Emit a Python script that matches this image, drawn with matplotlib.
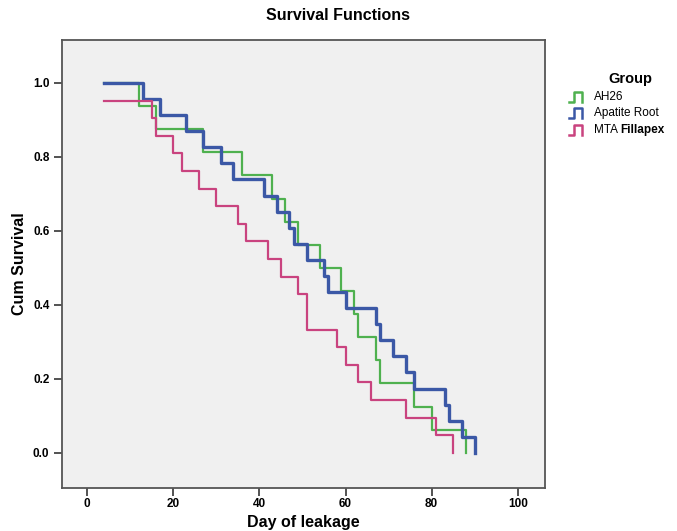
import numpy as np
import matplotlib
matplotlib.use("Agg")
import matplotlib.pyplot as plt
from matplotlib.lines import Line2D

plt.rcParams['font.family'] = ['Liberation Sans', 'DejaVu Sans']

# day of leakage for each sample
groups = ["AH26", "Apatite Root", "MTA Fillapex"]
ah26_days = [12, 16, 27, 36, 43, 46, 49, 54, 59, 62, 63, 67, 68, 76, 80, 88]
apatite_days = [13, 17, 23, 27, 31, 34, 41, 44, 47, 48, 51, 55, 56, 60,
                67, 68, 71, 74, 76, 83, 84, 87, 90]
mta_days = [4, 15, 16, 20, 22, 26, 30, 35, 37, 42, 45, 49, 51, 51, 58, 60,
            63, 66, 74, 81, 85]
colors = ["#4fb14f", "#3b58a6", "#c9437f"]
widths = [1.6, 2.4, 1.6]
x_ticks = [0, 20, 40, 60, 80, 100]
y_ticks = [0.0, 0.2, 0.4, 0.6, 0.8, 1.0]


def km_steps(days, start):
    """Kaplan-Meier step points, starting at the first observed day."""
    days = np.sort(np.asarray(days))
    n = len(days)
    times, counts = np.unique(days, return_counts=True)
    at_risk = n
    s = 1.0
    xs, ys = [start], []
    s_start = 1.0
    for t, c in zip(times, counts):
        s *= (at_risk - c) / at_risk
        at_risk -= c
        if t <= start:
            s_start = s
        else:
            xs.append(t)
            ys.append(s)
    return xs, [s_start] + ys


all_days = [ah26_days, apatite_days, mta_days]
start = min(min(d) for d in all_days)

fig = plt.figure(figsize=(6.77, 5.31), dpi=100)
ax = fig.add_axes([62 / 677, 1 - 488 / 531, (545 - 62) / 677, (488 - 40) / 531])
ax.set_facecolor("#f0f0f0")

for days, col, lw in zip(all_days, colors, widths):
    xs, ys = km_steps(days, start)
    ax.step(xs, ys, where="post", color=col, lw=lw)

ax.set_xlim(-5.8, 106.3)
ax.set_ylim(-0.095, 1.116)
ax.set_xticks(x_ticks)
ax.set_yticks(y_ticks)
ax.set_yticklabels([f"{v:.1f}" for v in y_ticks])
ax.tick_params(direction="out", length=6, width=1.3, color="#444444",
               labelsize=8.5)
ax.tick_params(axis="x", pad=1.5)
ax.tick_params(axis="y", pad=3)
for lab in ax.get_xticklabels() + ax.get_yticklabels():
    lab.set_fontweight("bold")
for sp in ax.spines.values():
    sp.set_color("#555555")
    sp.set_linewidth(1.3)

ax.set_xlabel("Day of leakage", fontsize=11.5, fontweight="bold", labelpad=3)
ax.set_ylabel("Cum Survival", fontsize=11.5, fontweight="bold", labelpad=4)
fig.text(0.5, 1 - 15 / 531, "Survival Functions", ha="center", va="center",
         fontsize=11.5, fontweight="bold")

# legend drawn by hand: step icons plus labels
fig.text(630 / 677, 1 - 79 / 531, "Group", ha="center", va="center",
         fontsize=10.5, fontweight="bold")
row_y = [97, 113, 130]
for name, col, ry in zip(groups, colors, row_y):
    x0, x1, x2 = 569, 574, 582
    yb, yt = ry + 5, ry - 5
    px = np.array([x0, x1, x1, x2, x2]) / 677
    py = 1 - np.array([yb, yb, yt, yt, yb]) / 531
    fig.add_artist(Line2D(px, py, color=col, lw=1.8))
    if name == "MTA Fillapex":
        t = fig.text(594 / 677, 1 - ry / 531, "MTA ", ha="left", va="center",
                     fontsize=8.5)
        fig.canvas.draw()
        bb = t.get_window_extent()
        fig.text(bb.x1 / 677, 1 - ry / 531, "Fillapex", ha="left",
                 va="center", fontsize=8.5, fontweight="bold")
    else:
        fig.text(594 / 677, 1 - ry / 531, name, ha="left", va="center",
                 fontsize=8.5)

fig.savefig("out.png", dpi=100)
